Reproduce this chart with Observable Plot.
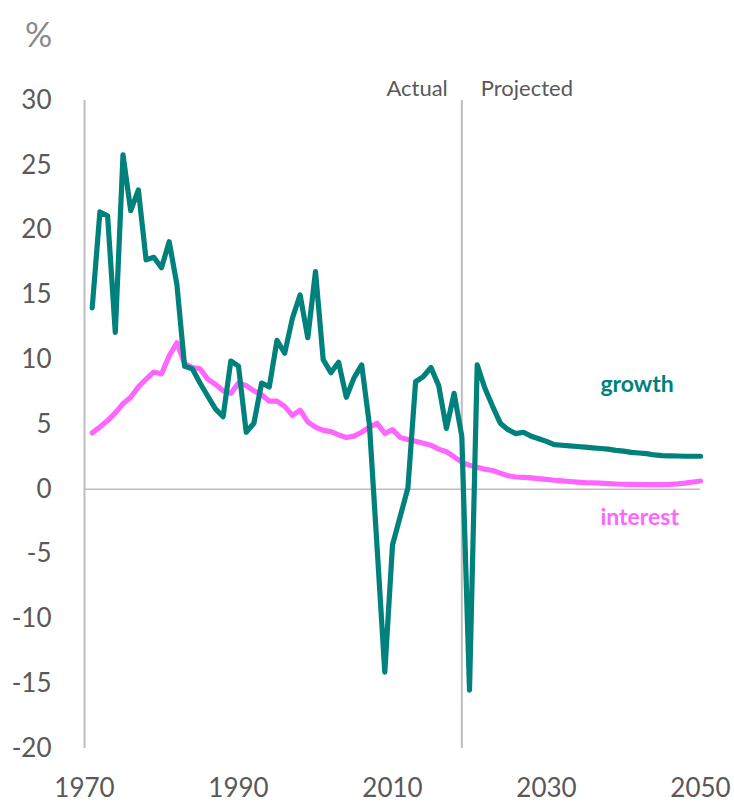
<!DOCTYPE html>
<html>
<head>
<meta charset="utf-8">
<script src="https://cdn.jsdelivr.net/npm/d3@7"></script>
<script src="https://cdn.jsdelivr.net/npm/@observablehq/plot@0.6"></script>
<style>
  body { margin: 0; background: #fff; }
  #chart svg { display: block; }
</style>
</head>
<body>
<div id="chart"></div>
<script>
const years = [1971,1972,1973,1974,1975,1976,1977,1978,1979,1980,
  1981,1982,1983,1984,1985,1986,1987,1988,1989,1990,
  1991,1992,1993,1994,1995,1996,1997,1998,1999,2000,
  2001,2002,2003,2004,2005,2006,2007,2008,2009,2010,
  2011,2012,2013,2014,2015,2016,2017,2018,2019,2020,
  2021,2022,2023,2024,2025,2026,2027,2028,2029,2030,
  2031,2032,2033,2034,2035,2036,2037,2038,2039,2040,
  2041,2042,2043,2044,2045,2046,2047,2048,2049,2050];

const growth = [14.0,21.4,21.1,12.1,25.8,21.5,23.1,17.7,17.9,17.1,
  19.1,15.8,9.5,9.3,8.2,7.2,6.2,5.6,9.9,9.5,
  4.4,5.1,8.2,7.9,11.5,10.5,13.2,15.0,11.7,16.8,
  10.0,9.0,9.8,7.1,8.6,9.6,5.0,-4.5,-14.1,-4.3,
  -2.1,0.1,8.3,8.7,9.4,8.0,4.7,7.4,4.1,-15.5,
  9.6,7.8,6.4,5.1,4.6,4.3,4.4,4.1,3.9,3.7,
  3.45,3.4,3.35,3.3,3.25,3.2,3.15,3.1,3.0,2.95,
  2.85,2.8,2.75,2.65,2.6,2.58,2.57,2.55,2.55,2.55];

const interest = [4.35,4.8,5.3,5.9,6.6,7.1,7.9,8.5,9.05,8.9,
  10.3,11.3,9.7,9.4,9.3,8.5,8.1,7.6,7.4,8.2,
  8.0,7.6,7.3,6.8,6.8,6.4,5.7,6.1,5.2,4.8,
  4.55,4.45,4.2,4.0,4.1,4.4,4.8,5.1,4.3,4.6,
  4.0,3.85,3.7,3.55,3.4,3.1,2.9,2.5,2.1,1.85,
  1.7,1.55,1.45,1.25,1.05,0.95,0.92,0.88,0.82,0.77,
  0.7,0.65,0.6,0.56,0.52,0.5,0.47,0.44,0.41,0.39,
  0.38,0.37,0.36,0.36,0.36,0.38,0.42,0.48,0.56,0.64];

const xTicks = [1970, 1990, 2010, 2030, 2050];
const yTicks = [-20, -15, -10, -5, 0, 5, 10, 15, 20, 25, 30];
const dividerYear = 2019;
const seriesLabels = [
  {name: "growth", x: 2037, y: 8.1},
  {name: "interest", x: 2037, y: -2.2}
];

const growthRows = years.map((yr, i) => ({year: yr, value: growth[i]}));
const interestRows = years.map((yr, i) => ({year: yr, value: interest[i]}));

const teal = "#00817b";
const pink = "#ff66ff";
const font = "Lato, 'Open Sans', sans-serif";

const chart = Plot.plot({
  width: 734,
  height: 806,
  marginTop: 100,
  marginBottom: 58,
  marginLeft: 84,
  marginRight: 34,
  style: {fontFamily: font, background: "#fff", overflow: "visible"},
  x: {domain: [1970, 2050]},
  y: {domain: [-20, 30]},
  marks: [
    Plot.axisX({ticks: xTicks, tickFormat: d => String(d), tickSize: 0, tickPadding: 30,
      fontSize: 26, color: "#595959", label: null}),
    Plot.axisY({ticks: yTicks, tickFormat: d => String(d), tickSize: 0, tickPadding: 33,
      fontSize: 26, color: "#595959", label: null}),
    Plot.ruleY([0], {stroke: "#bdbdbd", strokeWidth: 1.5}),
    Plot.ruleX([1970], {stroke: "#bdbdbd", strokeWidth: 2}),
    Plot.ruleX([dividerYear], {stroke: "#bdbdbd", strokeWidth: 2}),
    Plot.lineY(interestRows, {x: "year", y: "value", stroke: pink, strokeWidth: 5.2,
      strokeLinejoin: "round", strokeLinecap: "round"}),
    Plot.lineY(growthRows, {x: "year", y: "value", stroke: teal, strokeWidth: 5.2,
      strokeLinejoin: "round", strokeLinecap: "round"}),
    Plot.text(seriesLabels.slice(0, 1), {x: "x", y: "y", text: "name", textAnchor: "start",
      fill: teal, fontSize: 23, fontWeight: "bold"}),
    Plot.text(seriesLabels.slice(1), {x: "x", y: "y", text: "name", textAnchor: "start",
      fill: pink, fontSize: 23, fontWeight: "bold"}),
    Plot.text(["Actual"], {x: () => dividerYear, y: () => 30, text: d => d,
      textAnchor: "end", dx: -14, dy: -12, fill: "#595959", fontSize: 22}),
    Plot.text(["Projected"], {x: () => dividerYear, y: () => 30, text: d => d,
      textAnchor: "start", dx: 19, dy: -12, fill: "#595959", fontSize: 22}),
    Plot.text(["%"], {frameAnchor: "top-left", dx: -46, dy: -78, fill: "#8a8a8a",
      fontSize: 34, textAnchor: "middle"})
  ]
});
document.getElementById("chart").appendChild(chart);
</script>
</body>
</html>
